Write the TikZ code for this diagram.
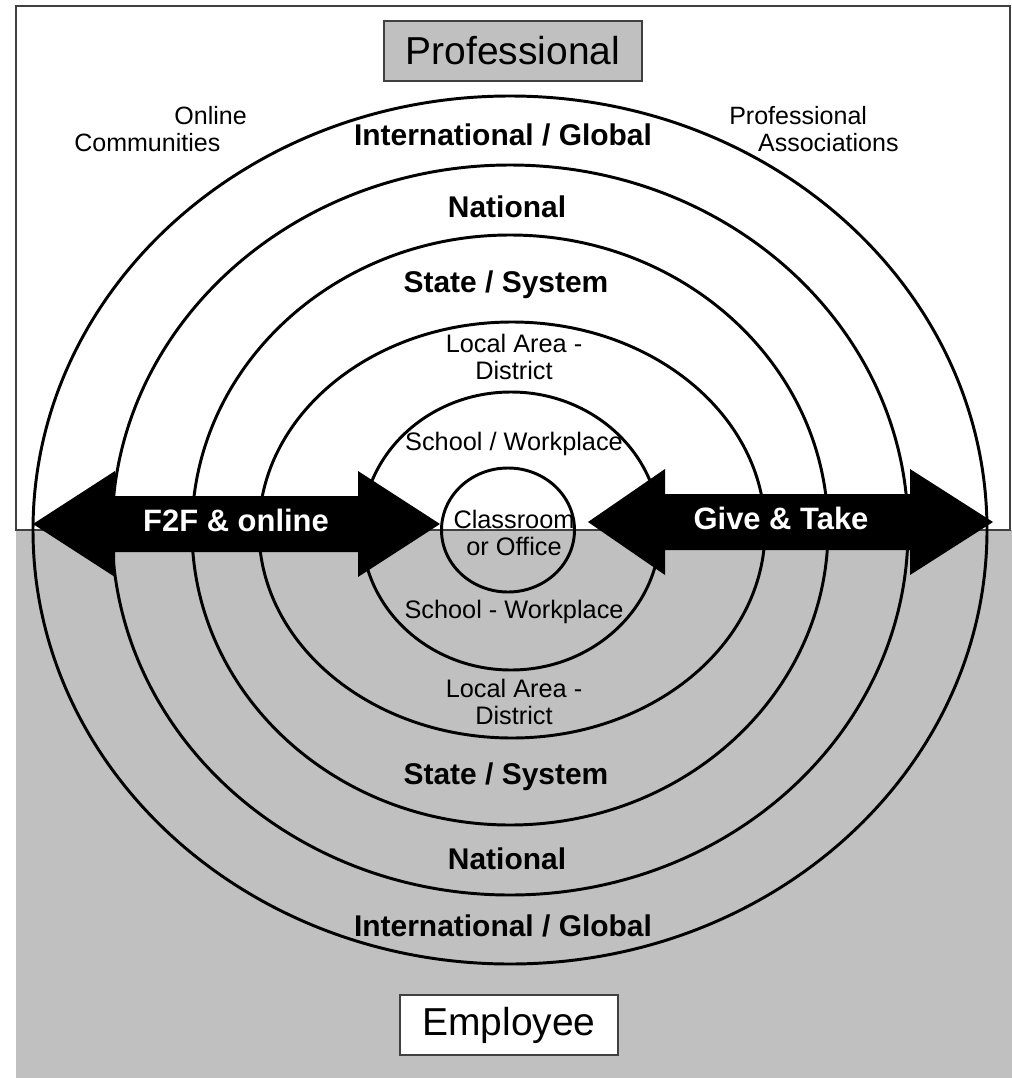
\documentclass[tikz,border=0pt]{standalone}
\usepackage{fontspec}
\setmainfont{Liberation Sans}
\usetikzlibrary{positioning}
\definecolor{panelgray}{RGB}{192,192,192}
\definecolor{edgegray}{RGB}{64,64,64}
\tikzset{ring/.style={draw=black,line width=2.1pt},
	level label/.style={font=\fontsize{21.3}{23}\selectfont\bfseries,inner sep=0pt},
	area label/.style={font=\fontsize{18}{19.2}\selectfont,align=center,inner sep=0pt},
	side label/.style={font=\fontsize{17.8}{19.2}\selectfont,align=left,inner sep=0pt,anchor=west},
	role box/.style={draw=edgegray,line width=1.4pt,font=\fontsize{27.7}{30}\selectfont,minimum height=1.5cm,inner sep=0pt},
	flow text/.style={text=white,font=\fontsize{22}{24}\selectfont\bfseries,inner sep=0pt},}

\begin{document}
\begin{tikzpicture}[x=0.025cm,y=-0.025cm]
			\useasboundingbox (0,0) rectangle (1012,1078);

			% two halves
			\fill[panelgray] (16,530) rectangle (1012,1078);
			\draw[edgegray, line width=1.4pt] (16,6) rectangle (1010,530);

			% levels
			\draw[ring] (510,530) ellipse [x radius=477, y radius=434];
			\draw[ring] (510,530) ellipse [x radius=398, y radius=365];
			\draw[ring] (510,530) ellipse [x radius=318, y radius=295];
			\draw[ring] (512,530) ellipse [x radius=253, y radius=208];
			\draw[ring] (511,531) ellipse [x radius=149, y radius=139];

			% block arrows
			\fill[black] (33,524) -- (115,471) -- (115,496) -- (358,496) -- (358,471) -- (440,524)
				-- (358,577) -- (358,552) -- (115,552) -- (115,577) -- cycle;
			\fill[black] (588,522) -- (665,469) -- (665,494) -- (910,494) -- (910,469) -- (993,522)
				-- (910,575) -- (910,550) -- (665,550) -- (665,575) -- cycle;

			\draw[ring] (508,530) ellipse [x radius=66.5, y radius=62];

			\node[flow text] (f2f) at (236,520) {F2F \& online};
			\node[flow text] (give) at (781,518) {Give \& Take};

			\node[role box, fill=panelgray, minimum width=6.45cm] (prof) at (513,51) {Professional};
			\node[role box, fill=white, minimum width=5.45cm] (empl) at (509,1025) {Employee};

			\node[side label] (online) at (74,129) {\hspace*{4em}Online\\Communities};
			\node[side label] (assoc) at (729,129) {Professional\\\hspace*{1.15em}Associations};

			\node[level label] (intl top) at (503,135) {International / Global};
			\node[level label] (nat top) at (507,207) {National};
			\node[level label] (state top) at (506,285) {State / System};
			\node[area label] (local top) at (514,357) {Local Area -\\District};
			\node[area label] (school top) at (514,444) {School / Workplace};
			\node[area label] (class) at (514,533) {Classroom\\or Office};
			\node[area label] (school bot) at (514,612) {School - Workplace};
			\node[area label] (local bot) at (514,702) {Local Area -\\District};
			\node[level label] (state bot) at (506,777) {State / System};
			\node[level label] (nat bot) at (507,859) {National};
			\node[level label] (intl bot) at (503,926) {International / Global};
		\end{tikzpicture}
\end{document}
